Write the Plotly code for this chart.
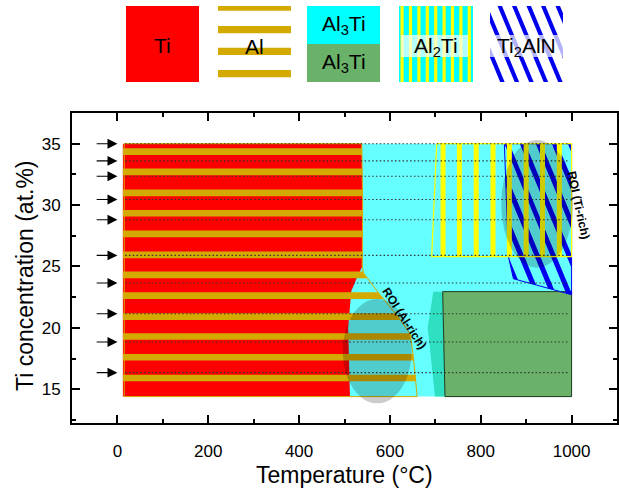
import numpy as np
import plotly.graph_objects as go

# ---------------- axes ----------------
X_RANGE = [-100, 1100]
Y_RANGE = [12.25, 37.5]
X_TICK_MAJOR = 200
X_TICK_MINOR = 100
Y_TICK_MAJOR = 5
Y_TICK_MINOR = 2.5

# ---------------- processing routes (arrows + dotted lines) ----------------
ROUTE_TI = [35.0, 33.6, 32.35, 30.45, 28.8, 25.9, 23.65, 21.15, 18.85, 16.35]
ROUTE_T_START = 17
ROUTE_T_END = 995
ARROW_T_TAIL = -49
ARROW_T_HEAD = 0

# ---------------- phase fields (temperature degC, Ti at.%) ----------------
# Ti (red)
TI_T = [12, 538, 540, 539, 530, 515, 508, 510, 512, 12]
TI_C = [35, 35, 30, 25, 24.3, 23, 20, 16, 14.4, 14.4]

# Al field: right-hand boundary, top to bottom
AL_BND_T = [538, 540, 539, 542, 578, 615, 645, 652, 660]
AL_BND_C = [35, 30, 25, 24.45, 22.7, 21.05, 19.5, 17.5, 14.4]
AL_LEFT_T = 12
AL_TOP_C = 35
AL_BOTTOM_C = 14.4
# Al layers (centre, Ti at.%)
AL_LAYER_C = [34.35, 32.70, 30.99, 29.33, 27.65, 25.94,
              24.31, 22.62, 20.91, 19.30, 17.61, 15.92]
AL_LAYER_HALF = 0.27

# Al3Ti matrix (light cyan)
AL3TI_T = [400, 1000, 1000, 400]
AL3TI_C = [14.4, 14.4, 35, 35]

# transition band between Al3Ti variants
BAND_T = [695.5, 716.2, 721.3, 699.3, 683.2]
BAND_C = [22.95, 22.95, 14.4, 14.4, 20.0]

# Al3Ti (green)
GREEN_T = [716.2, 1000, 1000, 721.3]
GREEN_C = [22.95, 22.95, 14.4, 14.4]

# Al2Ti field with its vertical stripes
AL2TI_T = [703, 1000, 1000, 692]
AL2TI_C = [35, 35, 25.8, 25.8]
AL2TI_STRIPE_T = [717, 753, 790, 827, 863, 900, 936, 973]
AL2TI_STRIPE_HALF = 5.5

# Ti2AlN field
TI2ALN_T = [852, 1000, 1000, 872, 861]
TI2ALN_C = [35, 35, 22.7, 24.0, 25.8]

# ROI ellipses: centre T, centre C, half-width (degC), half-height (at.%)
ROI_AL = (572, 18.1, 76, 4.25)
ROI_TI = (924, 30.1, 79, 5.2)

# ---------------- colours ----------------
RED = "#FF0000"
GOLD = "#D4AA00"
CYAN_LIGHT = "#66FFFF"
CYAN = "#00FFFF"
TEAL = "#2EDFC2"
GREEN = "#6AB26A"
YELLOW = "#FFFF00"
BLUE = "#0000EE"
FONT = "Liberation Sans, Arial, sans-serif"

W, H = 619, 490
PLOT_L, PLOT_R, PLOT_T, PLOT_B = 72, 617, 113, 423

# pixel scale of the main axes (used for the slanted hatching)
SX = (PLOT_R - PLOT_L) / (X_RANGE[1] - X_RANGE[0])
SY = (PLOT_B - PLOT_T) / (Y_RANGE[1] - Y_RANGE[0])


def closed(xs, ys):
    return list(xs) + [xs[0]], list(ys) + [ys[0]]


def poly(xs, ys, fill, line=None, lw=0, ax="x", ay="y"):
    cx, cy = closed(xs, ys)
    return go.Scatter(x=cx, y=cy, mode="lines", fill="toself", fillcolor=fill,
                      line=dict(color=line or "rgba(0,0,0,0)", width=lw),
                      hoverinfo="skip", showlegend=False, xaxis=ax, yaxis=ay)


def multi_poly(polys, fill, ax="x", ay="y"):
    xs, ys = [], []
    for p in polys:
        if len(p) < 3:
            continue
        for (a, b) in p + [p[0]]:
            xs.append(a)
            ys.append(b)
        xs.append(None)
        ys.append(None)
    return go.Scatter(x=xs, y=ys, mode="lines", fill="toself", fillcolor=fill,
                      line=dict(color="rgba(0,0,0,0)", width=0),
                      hoverinfo="skip", showlegend=False, xaxis=ax, yaxis=ay)


def clip_half(pts, a, b, c):
    """Keep the part of polygon pts where a*x + b*y <= c."""
    out = []
    n = len(pts)
    for i in range(n):
        P, Q = pts[i], pts[(i + 1) % n]
        fp = a * P[0] + b * P[1] - c
        fq = a * Q[0] + b * Q[1] - c
        if fp <= 0:
            out.append(P)
        if (fp < 0 < fq) or (fq < 0 < fp):
            t = fp / (fp - fq)
            out.append((P[0] + t * (Q[0] - P[0]), P[1] + t * (Q[1] - P[1])))
    return out


def hatch(pts_px, slope, spacing, width, phase=0.0):
    """Diagonal '\\' stripes (screen space, y downward) clipped to a polygon."""
    ks = [u - w / slope for (u, w) in pts_px]
    k = np.floor((min(ks) - phase) / spacing) * spacing + phase
    res = []
    while k < max(ks):
        p = clip_half(pts_px, -1.0, 1.0 / slope, -k)
        p = clip_half(p, 1.0, -1.0 / slope, k + width)
        if len(p) >= 3:
            res.append(p)
        k += spacing
    return res


def to_px(T, C):
    return ((T - X_RANGE[0]) * SX, (Y_RANGE[1] - C) * SY)


def from_px(u, w):
    return (u / SX + X_RANGE[0], Y_RANGE[1] - w / SY)


fig = go.Figure()

# Al3Ti matrix background
fig.add_trace(poly(AL3TI_T, AL3TI_C, CYAN_LIGHT))

# Ti field
fig.add_trace(poly(TI_T, TI_C, RED))

# Al layers clipped to the Al field boundary
bc = np.array(AL_BND_C[::-1])
bt = np.array(AL_BND_T[::-1])
layers = []
for c in AL_LAYER_C:
    y0 = max(c - AL_LAYER_HALF, AL_BOTTOM_C)
    y1 = min(c + AL_LAYER_HALF, AL_TOP_C)
    pts = [(AL_LEFT_T, y0), (float(np.interp(y0, bc, bt)), y0)]
    for tt, cc in zip(bt, bc):
        if y0 < cc < y1:
            pts.append((float(tt), float(cc)))
    pts += [(float(np.interp(y1, bc, bt)), y1), (AL_LEFT_T, y1)]
    layers.append(pts)
fig.add_trace(multi_poly(layers, GOLD))
al_out_t = [AL_LEFT_T + 3] + AL_BND_T + [AL_LEFT_T + 3]
al_out_c = [AL_TOP_C] + AL_BND_C + [AL_BOTTOM_C]
fig.add_trace(poly(al_out_t, al_out_c, "rgba(0,0,0,0)", GOLD, 1))

# transition band and green Al3Ti
fig.add_trace(poly(BAND_T, BAND_C, TEAL))
fig.add_trace(poly(GREEN_T, GREEN_C, GREEN, "#1E3A1E", 1))

# Ti2AlN hatching
reg_px = [to_px(t, c) for t, c in zip(TI2ALN_T, TI2ALN_C)]
stripes = hatch(reg_px, 2.4, 16.0, 5.5, phase=3.0)
stripes_d = [[from_px(u, w) for (u, w) in p] for p in stripes]
fig.add_trace(multi_poly(stripes_d, BLUE))
fig.add_trace(poly(TI2ALN_T, TI2ALN_C, "rgba(0,0,0,0)", BLUE, 1))

# Al2Ti stripes
yl = []
for t in AL2TI_STRIPE_T:
    yl.append([(t - AL2TI_STRIPE_HALF, AL2TI_C[2]), (t + AL2TI_STRIPE_HALF, AL2TI_C[2]),
               (t + AL2TI_STRIPE_HALF, AL2TI_C[0]), (t - AL2TI_STRIPE_HALF, AL2TI_C[0])])
fig.add_trace(multi_poly(yl, YELLOW))
fig.add_trace(poly(AL2TI_T, AL2TI_C, "rgba(0,0,0,0)", YELLOW, 1.2))

# dotted processing routes
rx, ry = [], []
for c in ROUTE_TI:
    rx += [ROUTE_T_START, ROUTE_T_END, None]
    ry += [c, c, None]
fig.add_trace(go.Scatter(x=rx, y=ry, mode="lines",
                         line=dict(color="#333333", width=1.1, dash="1.5px,2.3px"),
                         hoverinfo="skip", showlegend=False))

# ROI ellipses
shapes = []
for (ct, cc, rt, rc) in (ROI_AL, ROI_TI):
    shapes.append(dict(type="circle", xref="x", yref="y", x0=ct - rt, x1=ct + rt,
                       y0=cc - rc, y1=cc + rc, fillcolor="rgba(0,0,0,0.2)",
                       line=dict(width=0), layer="above"))

annotations = []
for c in ROUTE_TI:
    annotations.append(dict(x=ARROW_T_HEAD, y=c, ax=ARROW_T_TAIL, ay=c, axref="x", ayref="y",
                            xref="x", yref="y", text="", showarrow=True, arrowhead=2,
                            arrowsize=1.8, arrowwidth=1.1, arrowcolor="black", standoff=0))

annotations.append(dict(x=633, y=20.75, xref="x", yref="y", text="<b>ROI (Al-rich)</b>",
                        showarrow=False, textangle=57, font=dict(family=FONT, size=12, color="black")))
annotations.append(dict(x=1015, y=30.0, xref="x", yref="y", text="<b>ROI (Ti-rich)</b>",
                        showarrow=False, textangle=78, font=dict(family=FONT, size=12, color="black")))

# ---------------- key above the plot (pixel coordinates on x2/y2) ----------------
KEY_TOP, KEY_BOT = 6, 82
KEY_X = [(126, 199), (218, 291), (307, 380), (399, 473), (490, 563)]
AL_KEY_STRIPES = [(6, 10.7), (26, 33.3), (47.7, 55), (70, 77.3)]
AL2TI_KEY_PITCH = 8.4
AL2TI_KEY_W = 3.2


def rect(x0, x1, y0, y1):
    return [(x0, y0), (x1, y0), (x1, y1), (x0, y1)]


def key_poly(p, fill):
    xs = [a for a, _ in p]
    ys = [b for _, b in p]
    return poly(xs, ys, fill, ax="x2", ay="y2")


# Ti
x0, x1 = KEY_X[0]
fig.add_trace(key_poly(rect(x0, x1, KEY_TOP, KEY_BOT), RED))
# Al
x0, x1 = KEY_X[1]
fig.add_trace(multi_poly([rect(x0, x1, a, b) for a, b in AL_KEY_STRIPES], GOLD, "x2", "y2"))
# Al3Ti pair
x0, x1 = KEY_X[2]
mid = (KEY_TOP + KEY_BOT) / 2
fig.add_trace(key_poly(rect(x0, x1, KEY_TOP, mid), CYAN))
fig.add_trace(key_poly(rect(x0, x1, mid, KEY_BOT), GREEN))
# Al2Ti
x0, x1 = KEY_X[3]
fig.add_trace(key_poly(rect(x0, x1, KEY_TOP, KEY_BOT), CYAN))
ks = []
u = x0 + 1.5
while u < x1 - 1:
    ks.append(rect(u, min(u + AL2TI_KEY_W, x1), KEY_TOP, KEY_BOT))
    u += AL2TI_KEY_PITCH
fig.add_trace(multi_poly(ks, YELLOW, "x2", "y2"))
fig.add_trace(key_poly(rect(x0 + 2, x1 - 5, 35, 57), "rgba(255,255,255,0.7)"))
# Ti2AlN
x0, x1 = KEY_X[4]
kst = hatch(rect(x0, x1, KEY_TOP, KEY_BOT), 2.4, 14.5, 4.5, phase=2.0)
fig.add_trace(multi_poly(kst, BLUE, "x2", "y2"))
fig.add_trace(key_poly(rect(x0, x1, 35, 57), "rgba(255,255,255,0.7)"))

KEY_LABELS = [("Ti", KEY_X[0], 45), ("Al", KEY_X[1], 46),
              ("Al<sub>3</sub>Ti", KEY_X[2], 25), ("Al<sub>3</sub>Ti", KEY_X[2], 63),
              ("Al<sub>2</sub>Ti", KEY_X[3], 47), ("Ti<sub>2</sub>AlN", KEY_X[4], 47)]
for txt, (a, b), yy in KEY_LABELS:
    annotations.append(dict(x=(a + b) / 2, y=yy, xref="x2", yref="y2", text=txt,
                            showarrow=False, font=dict(family=FONT, size=21, color="black")))

# axis titles
annotations.append(dict(x=(PLOT_L + PLOT_R) / 2, y=475, xref="x2", yref="y2",
                        text="Temperature (°C)", showarrow=False,
                        font=dict(family=FONT, size=23, color="black")))
annotations.append(dict(x=25, y=276, xref="x2", yref="y2", text="Ti concentration (at.%)",
                        showarrow=False, textangle=-90,
                        font=dict(family=FONT, size=23, color="black")))

axis_common = dict(showline=True, linecolor="black", linewidth=2, mirror="allticks",
                   ticks="inside", ticklen=8, tickwidth=1.5, tickcolor="black",
                   showgrid=False, zeroline=False,
                   tickfont=dict(family=FONT, size=17, color="black"))

fig.update_layout(
    width=W, height=H,
    margin=dict(l=0, r=0, t=0, b=0),
    paper_bgcolor="white", plot_bgcolor="rgba(0,0,0,0)",
    showlegend=False,
    xaxis=dict(domain=[PLOT_L / W, PLOT_R / W], range=X_RANGE, tick0=0, dtick=X_TICK_MAJOR,
               minor=dict(ticks="inside", ticklen=4, tickwidth=1.5, dtick=X_TICK_MINOR,
                          tickcolor="black"),
               ticklabelstandoff=12, anchor="y", **axis_common),
    yaxis=dict(domain=[1 - PLOT_B / H, 1 - PLOT_T / H], range=Y_RANGE, tick0=0, dtick=Y_TICK_MAJOR,
               minor=dict(ticks="inside", ticklen=4, tickwidth=1.5, dtick=Y_TICK_MINOR,
                          tickcolor="black"),
               ticklabelstandoff=6, anchor="x", **axis_common),
    xaxis2=dict(domain=[0, 1], range=[0, W], visible=False, anchor="y2", fixedrange=True),
    yaxis2=dict(domain=[0, 1], range=[H, 0], visible=False, anchor="x2", fixedrange=True),
    shapes=shapes,
    annotations=annotations,
)

fig.write_html("out.html")
